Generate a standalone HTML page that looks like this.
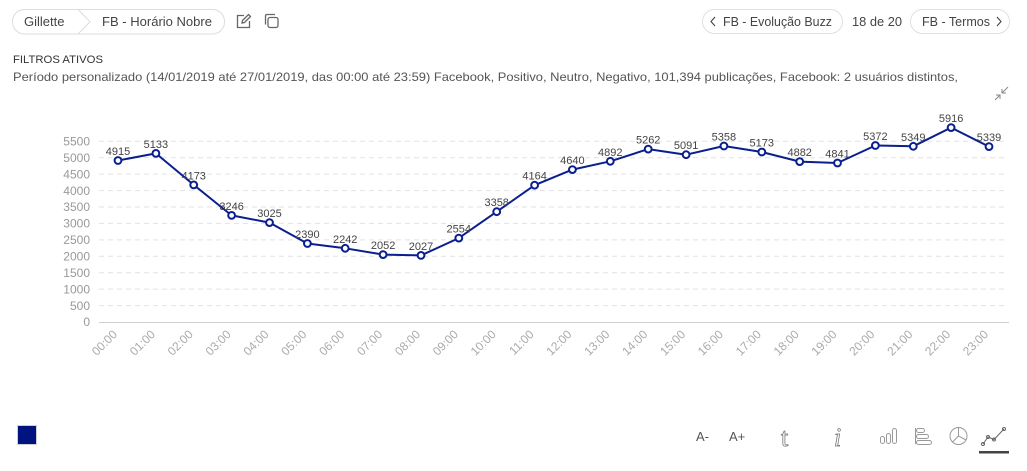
<!DOCTYPE html>
<html><head><meta charset="utf-8"><style>
html,body{margin:0;padding:0;background:#fff;}
body{width:1027px;height:471px;overflow:hidden;font-family:"Liberation Sans",sans-serif;}
svg{display:block;}
</style></head><body>
<svg width="1027" height="471" viewBox="0 0 1027 471" xmlns="http://www.w3.org/2000/svg" font-family="Liberation Sans, sans-serif">
<!-- header breadcrumb -->
<rect x="12.5" y="9.5" width="212" height="24.5" rx="12" fill="#fff" stroke="#dcdcdc"/>
<polyline points="78,9.5 90,21.7 78,34" fill="none" stroke="#dcdcdc"/>
<text x="24" y="26" font-size="13" fill="#444">Gillette</text>
<text x="102" y="26" font-size="13" fill="#444" textLength="110" lengthAdjust="spacingAndGlyphs">FB - Horário Nobre</text>
<!-- edit icon -->
<g fill="none" stroke="#666" stroke-width="1.3">
<path d="M244,15.5 H237.5 V27.5 H249.5 V21"/>
<path d="M242,23 L242.5,20.5 L248.5,14.5 L250.5,16.5 L244.5,22.5 Z"/>
<rect x="268" y="17.5" width="10" height="10" rx="2"/>
<path d="M265.5,24.5 V16 Q265.5,14.5 267,14.5 H275"/>
</g>
<!-- right nav -->
<rect x="702.5" y="9.5" width="140" height="24" rx="12" fill="#fff" stroke="#e0e0e0"/>
<polyline points="715,17 711,21.5 715,26" fill="none" stroke="#444" stroke-width="1.1"/>
<text x="723" y="26" font-size="13" fill="#444" textLength="109" lengthAdjust="spacingAndGlyphs">FB - Evolução Buzz</text>
<text x="852" y="26" font-size="13" fill="#444" textLength="50" lengthAdjust="spacingAndGlyphs">18 de 20</text>
<rect x="910.5" y="9.5" width="99" height="24" rx="12" fill="#fff" stroke="#e0e0e0"/>
<text x="922" y="26" font-size="13" fill="#444" textLength="68" lengthAdjust="spacingAndGlyphs">FB - Termos</text>
<polyline points="997,17 1001,21.5 997,26" fill="none" stroke="#444" stroke-width="1.1"/>
<!-- filters -->
<text x="13" y="63" font-size="11" fill="#333" textLength="90" lengthAdjust="spacingAndGlyphs">FILTROS ATIVOS</text>
<text x="13" y="81" font-size="12" fill="#555" textLength="945" lengthAdjust="spacingAndGlyphs">Período personalizado (14/01/2019 até 27/01/2019, das 00:00 até 23:59) Facebook, Positivo, Neutro, Negativo, 101,394 publicações, Facebook: 2 usuários distintos,</text>
<!-- compress icon -->
<g fill="none" stroke="#888" stroke-width="1">
<path d="M1008,87 L1002,93 M1002,89 V93 H1006"/>
<path d="M995,100 L1000,95 M996,95 H1000 V99"/>
</g>
<!-- grid -->
<g stroke="#e2e2e2" stroke-width="1" stroke-dasharray="5,4">
<line x1="99" x2="1006" y1="141.3" y2="141.3"/>
<line x1="99" x2="1006" y1="157.7" y2="157.7"/>
<line x1="99" x2="1006" y1="174.1" y2="174.1"/>
<line x1="99" x2="1006" y1="190.6" y2="190.6"/>
<line x1="99" x2="1006" y1="207.0" y2="207.0"/>
<line x1="99" x2="1006" y1="223.4" y2="223.4"/>
<line x1="99" x2="1006" y1="239.9" y2="239.9"/>
<line x1="99" x2="1006" y1="256.3" y2="256.3"/>
<line x1="99" x2="1006" y1="272.7" y2="272.7"/>
<line x1="99" x2="1006" y1="289.1" y2="289.1"/>
<line x1="99" x2="1006" y1="305.6" y2="305.6"/>
</g>
<line x1="99" x2="1009" y1="322.5" y2="322.5" stroke="#d0d0d0"/>
<!-- y labels -->
<g font-size="12" fill="#999" text-anchor="end">
<text x="90" y="145.5">5500</text>
<text x="90" y="161.9">5000</text>
<text x="90" y="178.3">4500</text>
<text x="90" y="194.8">4000</text>
<text x="90" y="211.2">3500</text>
<text x="90" y="227.6">3000</text>
<text x="90" y="244.1">2500</text>
<text x="90" y="260.5">2000</text>
<text x="90" y="276.9">1500</text>
<text x="90" y="293.3">1000</text>
<text x="90" y="309.8">500</text>
<text x="90" y="326.2">0</text>
</g>
<!-- x labels -->
<g font-size="12" fill="#aaa" text-anchor="end">
<text transform="translate(118,335) rotate(-45)">00:00</text>
<text transform="translate(155.9,335) rotate(-45)">01:00</text>
<text transform="translate(193.7,335) rotate(-45)">02:00</text>
<text transform="translate(231.6,335) rotate(-45)">03:00</text>
<text transform="translate(269.5,335) rotate(-45)">04:00</text>
<text transform="translate(307.4,335) rotate(-45)">05:00</text>
<text transform="translate(345.2,335) rotate(-45)">06:00</text>
<text transform="translate(383.1,335) rotate(-45)">07:00</text>
<text transform="translate(421,335) rotate(-45)">08:00</text>
<text transform="translate(458.8,335) rotate(-45)">09:00</text>
<text transform="translate(496.7,335) rotate(-45)">10:00</text>
<text transform="translate(534.6,335) rotate(-45)">11:00</text>
<text transform="translate(572.4,335) rotate(-45)">12:00</text>
<text transform="translate(610.3,335) rotate(-45)">13:00</text>
<text transform="translate(648.2,335) rotate(-45)">14:00</text>
<text transform="translate(686.1,335) rotate(-45)">15:00</text>
<text transform="translate(723.9,335) rotate(-45)">16:00</text>
<text transform="translate(761.8,335) rotate(-45)">17:00</text>
<text transform="translate(799.7,335) rotate(-45)">18:00</text>
<text transform="translate(837.5,335) rotate(-45)">19:00</text>
<text transform="translate(875.4,335) rotate(-45)">20:00</text>
<text transform="translate(913.3,335) rotate(-45)">21:00</text>
<text transform="translate(951.1,335) rotate(-45)">22:00</text>
<text transform="translate(989,335) rotate(-45)">23:00</text>
</g>
<!-- series -->
<polyline fill="none" stroke="#0a1f8f" stroke-width="2" stroke-linejoin="round" points="118,160.5 155.9,153.4 193.7,184.9 231.6,215.4 269.5,222.6 307.4,243.5 345.2,248.3 383.1,254.6 421,255.4 458.8,238.1 496.7,211.7 534.6,185.2 572.4,169.6 610.3,161.3 648.2,149.1 686.1,154.7 723.9,146 761.8,152 799.7,161.6 837.5,163 875.4,145.5 913.3,146.3 951.1,127.6 989,146.6"/>
<g fill="#fff" stroke="#0a1f8f" stroke-width="2">
<circle cx="118" cy="160.5" r="3.4"/>
<circle cx="155.9" cy="153.4" r="3.4"/>
<circle cx="193.7" cy="184.9" r="3.4"/>
<circle cx="231.6" cy="215.4" r="3.4"/>
<circle cx="269.5" cy="222.6" r="3.4"/>
<circle cx="307.4" cy="243.5" r="3.4"/>
<circle cx="345.2" cy="248.3" r="3.4"/>
<circle cx="383.1" cy="254.6" r="3.4"/>
<circle cx="421" cy="255.4" r="3.4"/>
<circle cx="458.8" cy="238.1" r="3.4"/>
<circle cx="496.7" cy="211.7" r="3.4"/>
<circle cx="534.6" cy="185.2" r="3.4"/>
<circle cx="572.4" cy="169.6" r="3.4"/>
<circle cx="610.3" cy="161.3" r="3.4"/>
<circle cx="648.2" cy="149.1" r="3.4"/>
<circle cx="686.1" cy="154.7" r="3.4"/>
<circle cx="723.9" cy="146" r="3.4"/>
<circle cx="761.8" cy="152" r="3.4"/>
<circle cx="799.7" cy="161.6" r="3.4"/>
<circle cx="837.5" cy="163" r="3.4"/>
<circle cx="875.4" cy="145.5" r="3.4"/>
<circle cx="913.3" cy="146.3" r="3.4"/>
<circle cx="951.1" cy="127.6" r="3.4"/>
<circle cx="989" cy="146.6" r="3.4"/>
</g>
<!-- data labels -->
<g font-size="11" fill="#444" text-anchor="middle">
<text x="118" y="155">4915</text>
<text x="155.9" y="147.9">5133</text>
<text x="193.7" y="179.4">4173</text>
<text x="231.6" y="209.9">3246</text>
<text x="269.5" y="217.1">3025</text>
<text x="307.4" y="238">2390</text>
<text x="345.2" y="242.8">2242</text>
<text x="383.1" y="249.1">2052</text>
<text x="421" y="249.9">2027</text>
<text x="458.8" y="232.6">2554</text>
<text x="496.7" y="206.2">3358</text>
<text x="534.6" y="179.7">4164</text>
<text x="572.4" y="164.1">4640</text>
<text x="610.3" y="155.8">4892</text>
<text x="648.2" y="143.6">5262</text>
<text x="686.1" y="149.2">5091</text>
<text x="723.9" y="140.5">5358</text>
<text x="761.8" y="146.5">5173</text>
<text x="799.7" y="156.1">4882</text>
<text x="837.5" y="157.5">4841</text>
<text x="875.4" y="140">5372</text>
<text x="913.3" y="140.8">5349</text>
<text x="951.1" y="122.1">5916</text>
<text x="989" y="141.1">5339</text>
</g>
<!-- legend -->
<rect x="17.5" y="425.5" width="19" height="19" fill="#00137f" stroke="#cfcfcf"/>
<!-- toolbar -->
<text x="696" y="441" font-size="13" fill="#555">A-</text>
<text x="729" y="441" font-size="13" fill="#555">A+</text>
<text x="781" y="446" font-size="26" fill="#fff" stroke="#777" stroke-width="0.8" font-family="Liberation Serif, serif">t</text>
<text x="834" y="446" font-size="26" fill="#fff" stroke="#777" stroke-width="0.8" font-family="Liberation Serif, serif" font-style="italic">i</text>
<g fill="none" stroke="#999" stroke-width="1">
<rect x="880.5" y="436.5" width="4" height="7" rx="2"/>
<rect x="886.5" y="433.5" width="4" height="10" rx="2"/>
<rect x="892.5" y="428.5" width="4" height="15" rx="2"/>
<path d="M915.5,428 V444"/>
<rect x="916.5" y="428.5" width="8" height="4" rx="2"/>
<rect x="916.5" y="434.5" width="12" height="4" rx="2"/>
<rect x="916.5" y="440.5" width="15" height="4" rx="2"/>
<circle cx="958.5" cy="436" r="8.5"/>
<path d="M958.5,427.5 V436 L966,440 M958.5,436 L952.5,442"/>
<polyline points="983,444 988,437 994,439.5 1004,429" stroke="#666"/>
<circle cx="983" cy="444" r="1.5" stroke="#666"/>
<circle cx="988" cy="437" r="1.5" stroke="#666"/>
<circle cx="994" cy="439.5" r="1.5" stroke="#666"/>
<circle cx="1004" cy="429" r="1.5" stroke="#666"/>
</g>
<rect x="979" y="451" width="30" height="2.5" fill="#444"/>
</svg>
</body></html>
